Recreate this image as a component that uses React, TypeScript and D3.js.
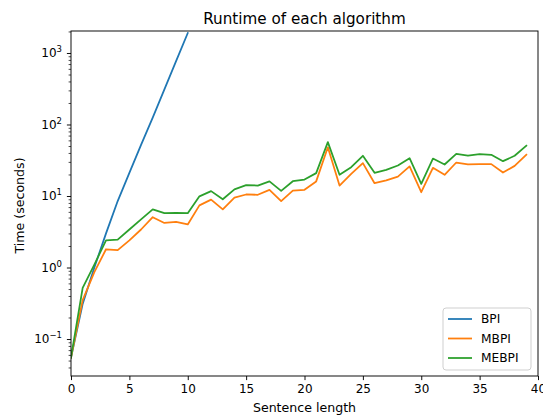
import * as d3 from 'd3';
import React, { useEffect, useRef } from 'react';

// sentence lengths
const lengths = d3.range(0, 40);
const bpiLengths = d3.range(0, 11);

const bpi = [0.055, 0.31, 1.0, 3.0, 8.5, 21, 52, 125, 310, 770, 1900];
const mbpi = [
	0.055, 0.35, 0.86, 1.8, 1.75, 2.4, 3.4, 5.05, 4.2, 4.36,
	4.0, 7.4, 8.9, 6.5, 9.5, 10.5, 10.4, 12.2, 8.5, 11.9,
	12.2, 16.0, 48, 14.0, 20.4, 28.8, 15.1, 16.5, 18.7, 25.9,
	11.3, 24.8, 19.8, 29.4, 27.6, 27.9, 27.9, 21.3, 26.4, 37.7,
];
const mebpi = [
	0.055, 0.52, 1.1, 2.4, 2.46, 3.4, 4.7, 6.5, 5.75, 5.8,
	5.75, 9.9, 11.7, 9.0, 12.4, 14.2, 14.0, 16.0, 11.8, 16.1,
	17.0, 20.9, 56.6, 19.8, 25.3, 36.5, 21.1, 23.2, 26.7, 33.8,
	14.8, 33.4, 27.6, 38.9, 36.8, 38.5, 37.7, 30.7, 36.5, 50.4,
];

const seriesNames = ['BPI', 'MBPI', 'MEBPI'];
const colors = ['#1f77b4', '#ff7f0e', '#2ca02c'];
const xTicks = [0, 5, 10, 15, 20, 25, 30, 35, 40];
const yTicks = [0.1, 1, 10, 100, 1000];

const W = 543;
const H = 417;
const FONT = 'DejaVu Sans, sans-serif';

const App = () => {
	const svgRef = useRef(null);

	useEffect(() => {
		const margin = { top: 31, right: 5, bottom: 41, left: 71 };
		const width = W - margin.left - margin.right;
		const height = H - margin.top - margin.bottom;

		const root = d3.select(svgRef.current);
		root.selectAll('*').remove();

		root.append('text')
			.attr('x', margin.left + width / 2)
			.attr('y', 24)
			.attr('text-anchor', 'middle')
			.style('font-family', FONT)
			.style('font-size', '15.2px')
			.text('Runtime of each algorithm');

		const svg = root.append('g')
			.attr('transform', `translate(${margin.left},${margin.top})`);

		const x = d3.scaleLinear().domain([0, 40]).range([0, width]);
		const y = d3.scaleLog().domain([0.0304, 2030]).range([height, 0]);

		svg.append('defs').append('clipPath').attr('id', 'plot-clip')
			.append('rect').attr('width', width).attr('height', height);

		const line = d3.line<[number, number]>()
			.x((d) => x(d[0]))
			.y((d) => y(d[1]));

		const series = [
			bpiLengths.map((v, i) => [v, bpi[i]] as [number, number]),
			lengths.map((v, i) => [v, mbpi[i]] as [number, number]),
			lengths.map((v, i) => [v, mebpi[i]] as [number, number]),
		];

		svg.append('g')
			.attr('clip-path', 'url(#plot-clip)')
			.selectAll('path')
			.data(series)
			.join('path')
			.attr('d', (d) => line(d))
			.attr('fill', 'none')
			.attr('stroke', (_, i) => colors[i])
			.attr('stroke-width', 1.77)
			.attr('stroke-linejoin', 'round')
			.attr('stroke-linecap', 'square');

		// x axis
		const xAxis = svg.append('g')
			.attr('transform', `translate(0,${height})`)
			.call(d3.axisBottom(x).tickValues(xTicks).tickSize(4.1).tickPadding(4).tickFormat(d3.format('d')));
		xAxis.select('.domain').remove();
		xAxis.selectAll('text').style('font-family', FONT).style('font-size', '12px').attr('fill', '#000');
		xAxis.selectAll('line').attr('stroke-width', 0.94);

		// y axis minor ticks
		const minor: number[] = [];
		for (let e = -2; e <= 3; e++) {
			for (let m = 2; m <= 9; m++) {
				const v = m * Math.pow(10, e);
				if (v >= 0.0304 && v <= 2030) minor.push(v);
			}
		}
		svg.append('g')
			.call(d3.axisLeft(y).tickValues(minor).tickSize(2.4).tickFormat(() => ''))
			.call((g) => g.select('.domain').remove())
			.selectAll('line').attr('stroke-width', 0.7);

		const yAxis = svg.append('g')
			.call(d3.axisLeft(y).tickValues(yTicks).tickSize(4.1).tickPadding(4).tickFormat(() => ''));
		yAxis.select('.domain').remove();
		yAxis.selectAll('line').attr('stroke-width', 0.94);

		const yLabels = svg.append('g');
		yTicks.forEach((t) => {
			const e = Math.round(Math.log10(t));
			const txt = yLabels.append('text')
				.attr('x', -9)
				.attr('y', y(t) + 4.3)
				.attr('text-anchor', 'end')
				.style('font-family', FONT)
				.style('font-size', '12px');
			txt.append('tspan').text('10');
			txt.append('tspan')
				.attr('dy', -5)
				.style('font-size', '8.5px')
				.text(e < 0 ? `\u2212${-e}` : `${e}`);
		});

		// frame
		svg.append('rect')
			.attr('width', width)
			.attr('height', height)
			.attr('fill', 'none')
			.attr('stroke', '#000')
			.attr('stroke-width', 0.94);

		svg.append('text')
			.attr('x', width / 2)
			.attr('y', height + 36)
			.attr('text-anchor', 'middle')
			.style('font-family', FONT)
			.style('font-size', '12.6px')
			.text('Sentence length');

		svg.append('text')
			.attr('transform', `translate(${-47},${height / 2 + 2}) rotate(-90)`)
			.attr('text-anchor', 'middle')
			.style('font-family', FONT)
			.style('font-size', '12.6px')
			.text('Time (seconds)');

		// legend
		const lg = svg.append('g').attr('transform', `translate(${width - 95},${height - 68})`);
		lg.append('rect')
			.attr('width', 88)
			.attr('height', 62)
			.attr('rx', 3)
			.attr('fill', '#fff')
			.attr('fill-opacity', 0.8)
			.attr('stroke', '#ccc')
			.attr('stroke-width', 0.94);
		seriesNames.forEach((name, i) => {
			const yy = 11 + i * 19.5;
			lg.append('line')
				.attr('x1', 5).attr('x2', 29)
				.attr('y1', yy).attr('y2', yy)
				.attr('stroke', colors[i])
				.attr('stroke-width', 1.77);
			lg.append('text')
				.attr('x', 38)
				.attr('y', yy + 4.4)
				.style('font-family', FONT)
				.style('font-size', '12.2px')
				.text(name);
		});
	}, []);

	return (
		<svg ref={svgRef} width={W} height={H} style={{ position: 'absolute', left: 0, top: 0 }} />
	);
};

export default App;
